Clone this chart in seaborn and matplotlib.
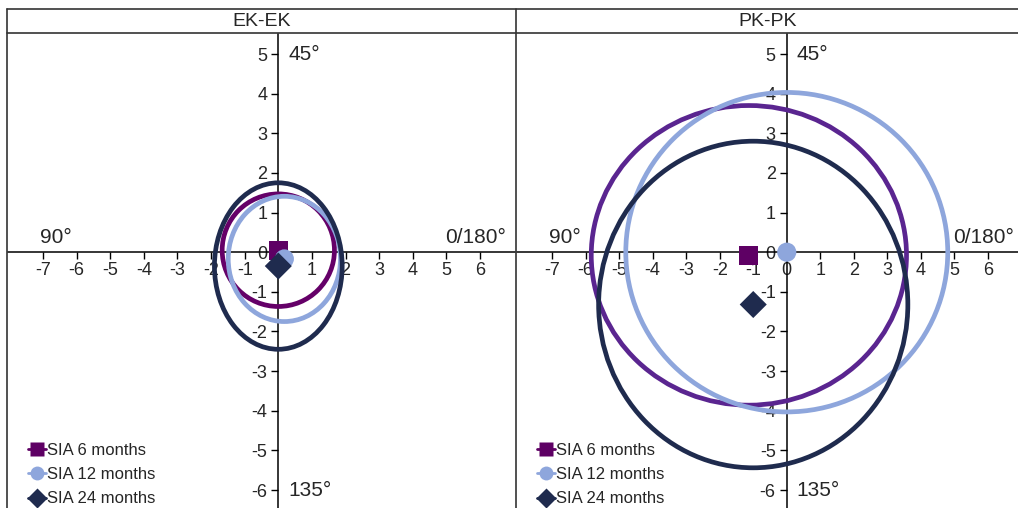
import matplotlib
matplotlib.use("Agg")
import numpy as np
import pandas as pd
import matplotlib.pyplot as plt
import seaborn as sns
from matplotlib.patches import Ellipse
from matplotlib.lines import Line2D

# --- data ---
panels = ["EK-EK", "PK-PK"]
series = ["SIA 6 months", "SIA 12 months", "SIA 24 months"]
markers = {"SIA 6 months": "s", "SIA 12 months": "o", "SIA 24 months": "D"}
marker_colors = {"SIA 6 months": "#5E0064", "SIA 12 months": "#8EA6DC", "SIA 24 months": "#1F2B4E"}
ring_colors = {
    "EK-EK": ["#650068", "#8EA6DC", "#1F2B4E"],
    "PK-PK": ["#5A2590", "#8EA6DC", "#1F2B4E"],
}

# centroid (x, y) per series
ek_x = [0.0, 0.18, 0.0]
ek_y = [0.05, -0.17, -0.35]
pk_x = [-1.13, 0.0, -1.0]
pk_y = [-0.08, 0.0, -1.32]
# ellipse half-widths / half-heights
ek_rx = [1.67, 1.67, 1.9]
ek_ry = [1.42, 1.58, 2.1]
pk_rx = [4.7, 4.8, 4.61]
pk_ry = [3.78, 4.03, 4.12]

xticks = list(range(-7, 7))
yticks = list(range(-6, 6))

df = pd.DataFrame({
    "panel": ["EK-EK"] * 3 + ["PK-PK"] * 3,
    "series": series * 2,
    "x": ek_x + pk_x,
    "y": ek_y + pk_y,
    "rx": ek_rx + pk_rx,
    "ry": ek_ry + pk_ry,
})

sns.set_style("white")
plt.rcParams["font.family"] = ["Liberation Sans", "DejaVu Sans"]
plt.rcParams["axes.unicode_minus"] = False

W, H = 1018, 508
fig = plt.figure(figsize=(W / 100, H / 100), dpi=100)


def px_axes(x0, x1, y0, y1):
    return fig.add_axes([x0 / W, 1 - y1 / H, (x1 - x0) / W, (y1 - y0) / H])


# pixel placement of each panel: (left, right, x=-7 px, x=6 px)
layout = {"EK-EK": (8, 515, 43, 480), "PK-PK": (517, 1018, 552, 988)}
y_top_px, y_bot_px = 34, 508
y5_px, ym6_px = 54, 490

for name in panels:
    x0, x1, xa, xb = layout[name]
    ax = px_axes(x0, x1, y_top_px, y_bot_px)
    sx = (xb - xa) / 13.0
    sy = (ym6_px - y5_px) / 11.0
    ax.set_xlim(-7 - (xa - x0) / sx, 6 + (x1 - xb) / sx)
    ax.set_ylim(-6 - (y_bot_px - ym6_px) / sy, 5 + (y5_px - y_top_px) / sy)

    sub = df[df["panel"] == name]
    for i, row in enumerate(sub.itertuples()):
        ax.add_patch(Ellipse((row.x, row.y), 2 * row.rx, 2 * row.ry, fill=False,
                             edgecolor=ring_colors[name][i], lw=3.4, zorder=3))

    sns.scatterplot(data=sub, x="x", y="y", hue="series", style="series",
                    markers=markers, palette=marker_colors, s=190,
                    edgecolor="none", legend=False, ax=ax, zorder=4)

    for side in ["top", "right"]:
        ax.spines[side].set_visible(False)
    for side in ["left", "bottom"]:
        ax.spines[side].set_position(("data", 0))
        ax.spines[side].set_color("black")
        ax.spines[side].set_linewidth(1.1)
    ax.set_xticks(xticks)
    ax.set_yticks(yticks)
    ax.tick_params(bottom=True, left=True, direction="out", length=5, width=1,
                   labelsize=13, color="black")
    ax.tick_params(axis="x", pad=2)
    ax.tick_params(axis="y", pad=3)
    ax.set_xlabel("")
    ax.set_ylabel("")
    ax.set_facecolor("none")

    ax.text(0.3, 5.0, "45°", fontsize=15, ha="left", va="center")
    ax.text(0.3, -6.0, "135°", fontsize=15, ha="left", va="center")
    ax.text(-7.1, 0.12, "90°", fontsize=15, ha="left", va="bottom")
    ax.text(6.78, 0.12, "0/180°", fontsize=15, ha="right", va="bottom")

    handles = [Line2D([], [], color=marker_colors[s], marker=markers[s], markersize=10,
                      lw=2, markeredgecolor="none") for s in series]
    ax.legend(handles, series, loc="upper left",
              bbox_to_anchor=(20 / (x1 - x0), (508 - 443) / 474),
              frameon=False, fontsize=12, handlelength=1.1, handletextpad=0.05,
              labelspacing=0.55, borderaxespad=0, borderpad=0)

    fig.text(((x0 + x1) / 2) / W, 1 - 21 / H, name, fontsize=14, ha="center", va="center")


# panel frame lines
def fline(xs, ys):
    fig.add_artist(Line2D([x / W for x in xs], [1 - y / H for y in ys], color="#333333", lw=1.2))


fline([7, 1018], [9, 9])
fline([7, 1018], [33, 33])
fline([7, 7], [9, 508])
fline([516, 516], [9, 508])

fig.savefig("out.png", dpi=100)
